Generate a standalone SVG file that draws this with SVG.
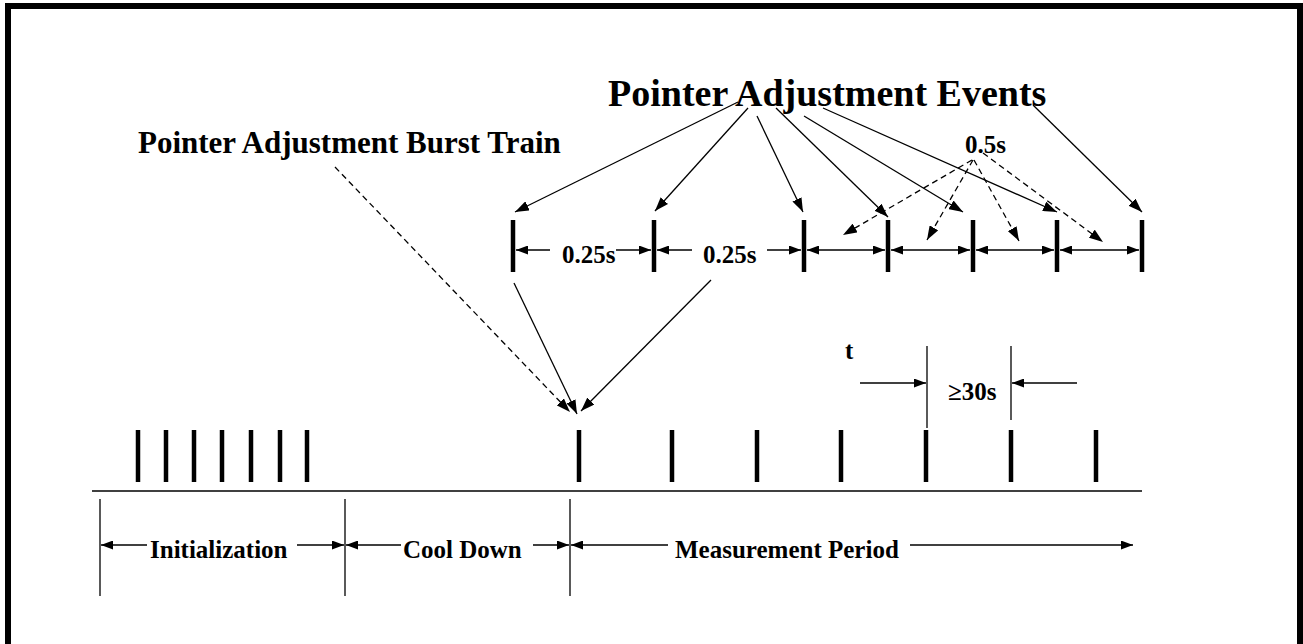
<svg xmlns="http://www.w3.org/2000/svg" width="1303" height="644" viewBox="0 0 1303 644">
<style>
  text { font-family: "Liberation Serif", "Times New Roman", serif; font-weight: bold; fill: #000; }
  .ln { stroke: #000; stroke-width: 1.3; fill: none; }
  .dash { stroke: #000; stroke-width: 1.3; fill: none; stroke-dasharray: 6 4; }
  .tick { stroke: #000; stroke-width: 4.5; fill: none; }
  .arr { marker-end: url(#ah); }
  .dim { marker-end: url(#sh); }
  .dim2 { marker-start: url(#sh); marker-end: url(#sh); }
</style>
<defs>
  <marker id="ah" viewBox="0 0 14 10" refX="14" refY="5" markerWidth="14" markerHeight="10" markerUnits="userSpaceOnUse" orient="auto-start-reverse">
    <path d="M0,0 L14,5 L0,10 z" fill="#000"/>
  </marker>
  <marker id="sh" viewBox="0 0 12 9" refX="12" refY="4.5" markerWidth="12" markerHeight="9" markerUnits="userSpaceOnUse" orient="auto-start-reverse">
    <path d="M0,0 L12,4.5 L0,9 z" fill="#000"/>
  </marker>
</defs>
<rect x="0" y="0" width="1303" height="644" fill="#fff"/>
<rect id="frame" x="8" y="6" width="1292" height="670" fill="none" stroke="#000" stroke-width="6"/>

<g id="labels">
  <text id="title-events" x="608" y="106" font-size="38">Pointer Adjustment Events</text>
  <text id="title-burst" x="138" y="153" font-size="31">Pointer Adjustment Burst Train</text>
  <text id="lbl-05s" x="965" y="153" font-size="25">0.5s</text>
  <text id="lbl-025s-a" x="562" y="263" font-size="25">0.25s</text>
  <text id="lbl-025s-b" x="703" y="263" font-size="25">0.25s</text>
  <text id="lbl-t" x="845" y="359" font-size="25">t</text>
  <text id="lbl-30s" x="948" y="400" font-size="25">≥30s</text>
  <text id="lbl-init" x="150" y="558" font-size="25">Initialization</text>
  <text id="lbl-cool" x="403" y="558" font-size="25">Cool Down</text>
  <text id="lbl-meas" x="675" y="558" font-size="25">Measurement Period</text>
</g>

<g id="top-ticks">
  <line class="tick" x1="513" y1="220" x2="513" y2="272"/>
  <line class="tick" x1="654" y1="220" x2="654" y2="272"/>
  <line class="tick" x1="804" y1="220" x2="804" y2="272"/>
  <line class="tick" x1="888" y1="220" x2="888" y2="272"/>
  <line class="tick" x1="973" y1="220" x2="973" y2="272"/>
  <line class="tick" x1="1057" y1="220" x2="1057" y2="272"/>
  <line class="tick" x1="1142" y1="220" x2="1142" y2="272"/>
</g>

<g id="timeline">
  <line class="ln" x1="92" y1="491" x2="1142" y2="491" stroke-width="1.5"/>
  <line class="tick" x1="138" y1="430" x2="138" y2="482"/>
  <line class="tick" x1="166" y1="430" x2="166" y2="482"/>
  <line class="tick" x1="194" y1="430" x2="194" y2="482"/>
  <line class="tick" x1="222" y1="430" x2="222" y2="482"/>
  <line class="tick" x1="251" y1="430" x2="251" y2="482"/>
  <line class="tick" x1="280" y1="430" x2="280" y2="482"/>
  <line class="tick" x1="307" y1="430" x2="307" y2="482"/>
  <line class="tick" x1="579" y1="430" x2="579" y2="482"/>
  <line class="tick" x1="672" y1="430" x2="672" y2="482"/>
  <line class="tick" x1="757" y1="430" x2="757" y2="482"/>
  <line class="tick" x1="841" y1="430" x2="841" y2="482"/>
  <line class="tick" x1="926" y1="430" x2="926" y2="482"/>
  <line class="tick" x1="1011" y1="430" x2="1011" y2="482"/>
  <line class="tick" x1="1096" y1="430" x2="1096" y2="482"/>
</g>

<g id="connectors">
  <!-- title arrows -->
  <line class="ln arr" x1="738" y1="102" x2="515" y2="212"/>
  <line class="ln arr" x1="748" y1="108" x2="655" y2="211"/>
  <line class="ln arr" x1="757" y1="116" x2="803" y2="212"/>
  <line class="ln arr" x1="776" y1="108" x2="888" y2="217"/>
  <line class="ln arr" x1="804" y1="116" x2="963" y2="212"/>
  <line class="ln arr" x1="823" y1="108" x2="1057" y2="212"/>
  <line class="ln arr" x1="1033" y1="105" x2="1142" y2="212"/>
  <!-- 0.5s dashed arrows -->
  <line class="dash arr" x1="972" y1="160" x2="843" y2="235"/>
  <line class="dash arr" x1="973" y1="160" x2="927" y2="240"/>
  <line class="dash arr" x1="974" y1="160" x2="1019" y2="241"/>
  <line class="dash arr" x1="983" y1="153" x2="1103" y2="242"/>
  <!-- top dimension arrows -->
  <line class="ln dim" x1="550" y1="250" x2="516" y2="250"/>
  <line class="ln dim" x1="616" y1="250" x2="651" y2="250"/>
  <line class="ln dim" x1="692" y1="250" x2="657" y2="250"/>
  <line class="ln dim" x1="767" y1="250" x2="801" y2="250"/>
  <line class="ln dim2" x1="807" y1="250" x2="885" y2="250"/>
  <line class="ln dim2" x1="891" y1="250" x2="970" y2="250"/>
  <line class="ln dim2" x1="976" y1="250" x2="1054" y2="250"/>
  <line class="ln dim2" x1="1060" y1="250" x2="1139" y2="250"/>
  <!-- burst train arrows -->
  <line class="dash arr" x1="335" y1="167" x2="570" y2="412"/>
  <line class="ln arr" x1="514" y1="283" x2="577" y2="414"/>
  <line class="ln arr" x1="711" y1="280" x2="581" y2="411"/>
  <!-- >=30s dimension -->
  <line class="ln" x1="927" y1="346" x2="927" y2="428" stroke-width="1.2"/>
  <line class="ln" x1="1011" y1="346" x2="1011" y2="420" stroke-width="1.2"/>
  <line class="ln dim" x1="860" y1="383" x2="926" y2="383"/>
  <line class="ln dim" x1="1077" y1="383" x2="1012" y2="383"/>
  <!-- period dimensions -->
  <line class="ln" x1="100" y1="499" x2="100" y2="596" stroke-width="1.2"/>
  <line class="ln" x1="345" y1="499" x2="345" y2="596" stroke-width="1.2"/>
  <line class="ln" x1="570" y1="499" x2="570" y2="596" stroke-width="1.2"/>
  <line class="ln dim" x1="147" y1="545" x2="101" y2="545"/>
  <line class="ln dim" x1="297" y1="545" x2="344" y2="545"/>
  <line class="ln dim" x1="401" y1="545" x2="346" y2="545"/>
  <line class="ln dim" x1="533" y1="545" x2="569" y2="545"/>
  <line class="ln dim" x1="668" y1="545" x2="571" y2="545"/>
  <line class="ln dim" x1="910" y1="545" x2="1133" y2="545"/>
</g>
</svg>
